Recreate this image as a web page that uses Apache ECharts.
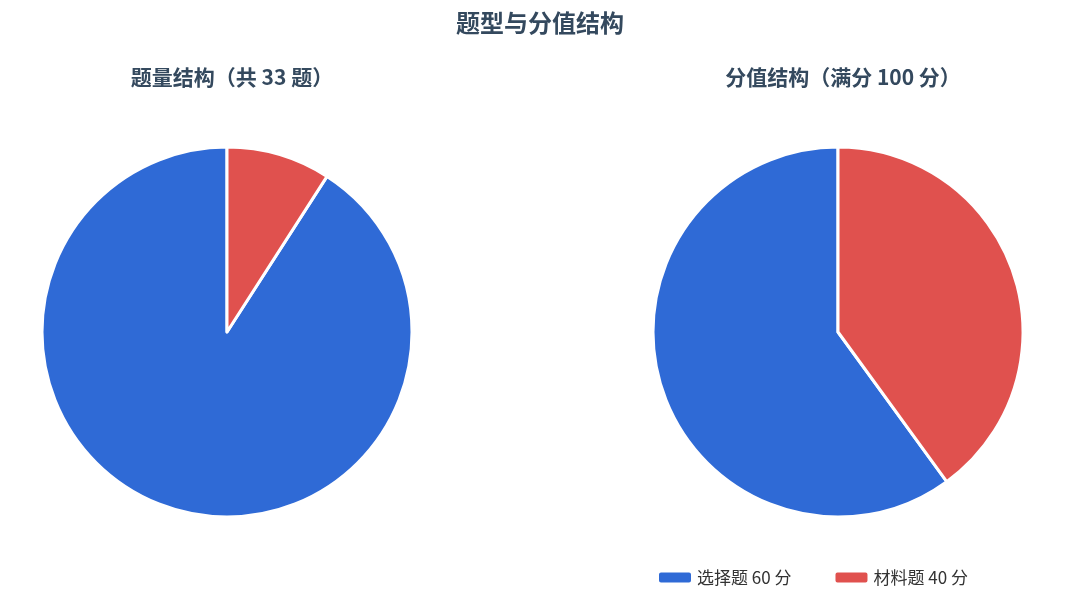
<!DOCTYPE html>
<html><head><meta charset="utf-8">
<script src="https://cdn.jsdelivr.net/npm/echarts@6/dist/echarts.min.js"></script>
<style>html,body{margin:0;padding:0}#c{width:1080px;height:596px}</style>
</head><body><div id="c"></div>
<script>
const categories = ['选择题 60 分', '材料题 40 分'];
const countValues = [30, 3];
const scoreValues = [60, 40];
const countLabels = ['91%', '9%'];
const scoreLabels = ['60%', '40%'];
const colors = ['#2f6ad6', '#e0514e'];
const font = '"Noto Sans CJK SC","Noto Sans",sans-serif';

function mk(vals) { return vals.map((v, i) => ({ name: categories[i], value: v })); }
function pieBase(center, vals) {
  return { type: 'pie', center: center, radius: 185, clockwise: false, startAngle: 90,
    data: mk(vals), label: { show: false }, labelLine: { show: false },
    itemStyle: { borderColor: '#fff', borderWidth: 3 }, emphasis: { disabled: true } };
}
function pieLabels(center, vals, labels) {
  return { type: 'pie', center: center, radius: [37, 185], clockwise: false, startAngle: 90, silent: true,
    legendHoverLink: false, data: mk(vals), itemStyle: { opacity: 0 }, tooltip: { show: false },
    label: { show: true, position: 'inside', color: '#fff', fontSize: 19, fontFamily: font,
      formatter: p => labels[p.dataIndex] }, labelLine: { show: false }, emphasis: { disabled: true } };
}
const chart = echarts.init(document.getElementById('c'));
chart.setOption({
  color: colors,
  animation: false,
  title: [
    { text: '题型与分值结构', left: 'center', top: 6, textStyle: { fontSize: 24, fontWeight: 'bold', color: '#34495e', fontFamily: font } },
    { text: '题量结构（共 33 题）', left: 227, textAlign: 'center', top: 62, textStyle: { fontSize: 21, fontWeight: 'bold', color: '#34495e', fontFamily: font } },
    { text: '分值结构（满分 100 分）', left: 838, textAlign: 'center', top: 62, textStyle: { fontSize: 21, fontWeight: 'bold', color: '#34495e', fontFamily: font } }
  ],
  legend: { data: categories, left: 652, top: 564, itemWidth: 34, itemHeight: 12, itemGap: 42,
    icon: 'roundRect', textStyle: { fontSize: 17, color: '#333', fontFamily: font } },
  series: [
    pieBase([227, 332], countValues), pieLabels([227, 332], countValues, countLabels),
    pieBase([838, 332], scoreValues), pieLabels([838, 332], scoreValues, scoreLabels)
  ]
});
</script></body></html>
